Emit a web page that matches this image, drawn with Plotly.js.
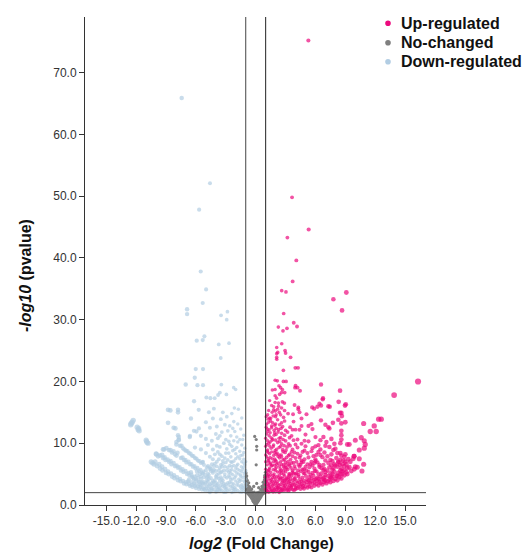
<!DOCTYPE html>
<html>
<head>
<meta charset="utf-8">
<script src="https://cdn.plot.ly/plotly-3.0.1.min.js"></script>
<style>html,body{margin:0;padding:0;background:#fff;overflow:hidden;}#chart{width:522px;height:552px;}</style>
</head>
<body>
<div id="chart"></div>
<script>
// ---- data: [log2FC, -log10 pvalue] ----
const upPoints = [
[5.29,75.2],[3.65,49.8],[5.32,44.6],[3.18,43.3],[4.08,39.6],[3.71,36.2],[2.61,34.7],[3.04,34.5],[9.1,34.4],[7.8,33.3],[8.67,31.5],[2.81,31.0],[3.82,29.5],[4.15,28.9],[2.27,28.8],[3.14,28.6],[2.74,28.2],[2.61,26.1],[16.3,20.0],[13.9,17.8],
[2.78,21.8],[3.98,22.2],[4.25,22.2],[2.11,23.9],[2.11,23.6],[3.5,23.9],[2.11,25.5],[2.21,24.7],[2.95,25.0],[3.0,24.6],[2.11,24.5],
[1.95,16.6],[2.68,16.7],[2.28,16.5],[2.88,16.5],[1.95,17.7],[2.91,18.2],[2.68,18.7],[1.95,18.7],[1.67,18.6],[4.45,18.5],[2.34,19.3],[4.0,19.3],[1.95,20.2],[2.17,20.1],[2.78,20.0],[3.05,20.0],[6.56,19.5],[8.47,18.5],[6.73,17.1],[8.33,16.7],[9.04,16.3],[8.97,16.1],[6.76,17.3],[2.5,19.0],[3.95,19.0],[4.2,19.0],[2.6,18.2],
[1.2,14.6],[1.65,15.0],[2.0,14.3],[2.37,15.0],[3.25,14.8],[3.75,14.7],[4.4,15.0],[5.1,14.7],[8.6,14.9],[8.65,14.4],[1.81,15.9],[1.97,15.2],[1.8,15.4],[2.6,15.7],[3.9,16.2],[4.28,15.8],[4.28,15.5],[5.67,15.8],[5.87,15.6],[6.2,15.9],[6.4,16.4],[7.3,16.0],[7.43,15.9],[6.56,16.1],[8.47,14.9],
[1.1,13.1],[1.5,13.6],[1.9,12.9],[2.2,13.8],[2.6,13.3],[3.8,13.5],[4.6,14.0],[5.6,13.1],[6.55,13.7],[7.0,13.0],[7.75,13.3],[8.6,13.2],[9.0,13.4],[10.84,13.2],[11.9,12.8],[12.35,13.9],[12.6,13.9],[7.3,12.6],[8.3,13.8],[1.4,14.1],
[1.2,11.9],[1.6,12.5],[1.9,11.7],[2.3,12.2],[2.7,12.7],[3.2,11.8],[3.7,12.2],[4.0,12.2],[4.4,12.2],[4.6,12.8],[5.3,12.8],[5.7,12.3],[7.4,12.4],[8.6,12.0],[11.5,11.9],[12.1,11.9],[1.6,12.8],
[1.0,10.8],[1.35,11.2],[1.7,10.7],[2.05,11.4],[2.5,10.9],[2.9,11.3],[3.6,11.2],[4.2,10.6],[5.0,11.4],[6.0,11.0],[6.8,11.0],[7.6,10.7],[8.6,10.6],[10.6,10.9],
[1.1,9.8],[1.45,10.2],[1.8,9.7],[2.2,10.1],[2.6,9.9],[3.0,10.4],[3.8,10.5],[4.6,9.9],[5.3,10.3],[6.3,9.7],[7.1,10.2],[9.2,9.8],[9.4,9.8],[10.0,10.5],[10.9,10.4],[11.0,9.8],
[1.2,8.9],[1.55,9.2],[1.95,8.8],[2.35,9.3],[2.7,8.95],[3.15,9.4],[3.7,9.0],[4.2,9.3],[4.9,8.8],[5.7,9.2],[6.5,9.0],[7.4,9.4],[10.4,8.9],[10.9,9.2],[1.0,9.5],[8.0,9.1],
[1.0,8.1],[1.4,8.3],[1.8,8.0],[2.15,8.4],[2.55,8.1],[2.95,8.5],[3.4,8.2],[3.9,8.5],[4.5,8.0],[5.2,8.4],[6.1,8.1],[6.9,8.5],[7.6,8.2],[8.2,8.4],[9.9,7.9],[1.6,8.6],
[1.3,7.2],[1.65,7.5],[2.0,7.25],[2.4,7.6],[2.75,7.3],[3.1,7.7],[3.5,7.35],[4.0,7.6],[4.6,7.2],[5.3,7.7],[6.0,7.4],[6.7,7.75],[7.5,7.3],[8.1,7.6],[8.5,7.3],[8.9,7.8],[9.8,7.5],[1.1,7.8],[2.25,7.85],
[1.15,6.5],[1.5,6.8],[1.9,6.45],[2.25,6.75],[2.6,6.55],[3.0,6.9],[3.35,6.6],[3.8,6.85],[4.3,6.5],[4.8,6.95],[5.5,6.6],[6.2,6.9],[6.8,6.5],[7.3,6.8],[7.9,6.6],[8.3,6.9],[8.7,6.6],[10.84,6.6],[1.0,7.0],[2.05,7.05],
[1.0,5.8],[1.4,6.0],[1.75,5.7],[2.1,6.1],[2.45,5.85],[2.8,6.15],[3.2,5.75],[3.55,6.0],[3.95,5.9],[4.4,6.2],[4.85,5.8],[5.4,6.1],[5.9,5.9],[6.4,6.2],[6.9,5.85],[7.4,6.1],[7.8,5.95],[8.2,6.2],[8.6,5.9],[9.2,6.0],[9.9,5.8],[10.2,6.1],[1.6,6.3],[3.4,6.35],
[1.1,5.1],[1.5,5.3],[1.85,5.0],[2.2,5.35],[2.6,5.15],[3.0,5.4],[3.35,5.05],[3.7,5.3],[4.1,5.15],[4.5,5.45],[4.9,5.1],[5.3,5.35],[5.7,5.2],[6.1,5.45],[6.6,5.1],[7.0,5.3],[7.5,5.15],[7.9,5.4],[8.3,5.2],[8.7,5.45],[9.1,5.3],[1.3,5.5],[2.8,5.55],
[1.0,4.5],[1.35,4.6],[1.7,4.4],[2.15,4.65],[2.55,4.45],[2.9,4.7],[3.25,4.5],[3.6,4.75],[3.95,4.4],[4.3,4.6],[4.7,4.45],[5.05,4.7],[5.4,4.5],[5.8,4.75],[6.15,4.4],[6.5,4.6],[6.9,4.5],[7.3,4.7],[7.7,4.6],[8.1,4.75],[8.4,4.5],[1.5,4.85],[2.4,4.9],[3.1,4.3],
[1.1,3.8],[1.45,4.0],[1.9,3.85],[2.35,4.05],[2.7,3.9],[3.0,4.1],[3.4,3.85],[3.75,4.0],[4.1,3.9],[4.45,4.15],[4.8,3.95],[5.15,4.1],[5.5,3.85],[5.85,4.05],[6.2,3.95],[6.6,4.15],[7.0,4.0],[7.4,4.1],[2.0,4.2],[1.25,4.25],
[1.0,3.3],[1.35,3.4],[1.7,3.2],[2.2,3.45],[2.5,3.3],[2.85,3.5],[3.2,3.25],[3.5,3.45],[3.9,3.3],[4.2,3.55],[4.6,3.35],[4.9,3.5],[5.3,3.3],[5.7,3.45],[6.1,3.4],[6.5,3.55],[1.55,3.6],[3.05,3.65],
[1.1,2.7],[1.4,2.8],[1.8,2.75],[2.3,2.85],[2.6,2.7],[2.9,2.9],[3.3,2.8],[3.6,2.95],[4.0,2.8],[4.3,2.95],[4.7,2.85],[5.0,3.0],[5.4,3.0],[1.25,3.05],[2.05,3.1],
[1.05,2.1],[1.3,2.05],[1.5,2.2],[1.75,2.1],[2.0,2.15],[2.25,2.3],[2.5,2.2],[2.8,2.35],[3.1,2.4],[1.15,2.4],[1.6,2.45],[2.1,2.5],[3.4,2.45],[3.7,2.5],[4.0,2.55],
[1.2,2.25],[1.65,2.3],[2.35,2.05],[2.7,2.5],[1.0,2.55],[1.9,2.6],[2.45,2.65],[3.2,2.6],[1.55,2.95],[2.15,2.9],[2.75,3.15],[3.45,3.1],[1.2,3.55],[1.95,3.55],[2.65,3.7],[3.3,3.7],[1.65,3.8],[2.45,4.25],[3.5,4.25],[1.9,4.55],[2.7,4.3],[1.2,4.75],[3.45,5.0],[2.0,5.6],[2.45,5.4],[1.2,5.55],[2.95,6.0],[1.65,6.45],[2.4,6.3],[3.05,6.45],[1.3,6.95],[2.5,7.0],[1.9,7.45],[2.9,7.4],[1.45,7.7],[2.05,8.2],[2.75,8.65],[1.25,8.5],[1.75,9.45],[2.5,9.5],[1.3,10.0],[2.0,10.5],[1.55,10.9],[2.35,10.8],[1.1,11.5],[1.85,11.3],[2.6,11.6],[1.35,12.2],[2.05,12.4],[1.05,12.6],[1.7,13.3],[2.4,13.0],[1.25,13.9],[2.05,14.6],[1.5,14.0],[1.05,14.3],[2.8,14.2],[2.2,15.5],
[3.8,3.55],[4.4,3.7],[5.1,3.7],[5.6,4.3],[6.3,4.25],[6.9,3.95],[7.6,4.35],[8.0,4.2],[4.0,5.0],[4.7,5.75],[5.1,5.6],[5.95,5.5],[6.8,5.65],[7.2,5.6],[7.7,5.7],[8.5,5.6],[8.0,6.4],[8.9,6.3],[6.4,6.5],[5.9,6.8],[4.5,6.5],[3.6,6.8],[4.1,7.0],[4.9,7.4],[5.6,7.0],[7.0,7.2],[8.6,8.0],[8.3,7.0],[9.0,7.0],[3.3,8.0],[4.2,8.3],[5.6,8.7],[6.5,8.1],[3.45,9.6],[4.0,9.8],[6.0,9.5],[9.5,7.0],[9.2,5.0],[9.6,5.5],[10.0,6.2],[10.67,5.5],[9.87,7.9],[10.4,7.5],[7.9,9.9],[8.6,11.3],[8.5,10.0],
[1.1,2.35],[1.45,2.6],[1.85,2.35],[2.2,2.7],[2.6,2.4],[2.95,2.65],[3.3,2.3],[3.55,2.75],[3.85,2.4],[4.2,2.7],[4.5,2.6],[4.85,2.65],[5.2,2.8],[5.6,2.85],[5.9,3.1],[6.3,3.15],[6.7,3.3],[7.1,3.5],[7.5,3.7],[7.8,3.9],[8.2,4.0],[8.6,4.3],[8.9,4.8],
[1.3,3.2],[1.8,3.35],[2.35,3.2],[2.95,3.15],[3.65,3.2],[4.05,3.1],[4.45,3.15],[4.75,3.1],[5.45,3.6],[5.9,3.7],[6.4,3.75],[6.85,3.7],[7.25,3.85],
[1.05,3.95],[1.6,4.15],[2.15,3.75],[2.9,3.95],[3.25,4.15],[3.9,4.2],[4.6,3.8],[5.3,3.95],[6.0,4.2],[6.8,4.3],[7.5,4.5],[8.2,4.7],[8.7,5.0],
[1.25,4.95],[1.75,4.8],[2.3,4.45],[2.8,5.0],[3.35,4.75],[3.8,5.1],[4.3,4.9],[4.8,5.2],[5.5,4.9],[6.3,5.0],[7.0,4.85],[7.7,5.0],[8.5,5.0],[8.9,5.6],[9.4,6.1],
[1.35,5.75],[1.95,5.85],[2.55,5.6],[3.1,6.0],[3.7,5.6],[4.25,5.6],[5.0,6.2],[5.7,6.4],[6.6,6.0],[7.6,6.45],[8.45,6.5],[9.1,6.6],
[1.45,6.6],[2.1,6.6],[2.8,6.5],[3.25,7.0],[3.9,6.3],[4.6,6.9],[5.2,6.6],[6.0,7.1],[7.7,7.1],[8.8,7.2],[9.3,7.4],
[1.25,7.5],[1.8,7.0],[2.6,7.8],[3.7,7.9],[4.4,7.7],[5.8,7.9],[7.2,7.9],[8.5,8.4],[9.0,8.2],
[1.15,8.7],[1.9,8.5],[2.35,8.1],[3.05,8.9],[3.6,8.6],[4.7,8.6],[6.3,8.6],[7.8,8.9],
[1.4,9.55],[2.1,9.0],[2.85,9.6],[3.3,9.9],[5.0,9.5],[7.0,9.6],
[1.2,10.4],[1.65,10.5],[2.4,10.3],[2.75,10.6],[3.4,10.9],[4.9,10.4],[6.5,10.5],
[1.45,11.7],[2.25,11.8],[3.0,12.1],[1.15,12.3],[1.85,12.1],[2.55,12.4],[3.45,12.6],[1.3,13.4],[2.0,13.1],[2.9,13.6],[1.75,14.4],[2.5,14.6],[1.3,15.3],[2.9,15.3],[1.6,16.1],[2.3,16.0],[1.4,16.9],[2.1,17.3],[2.4,17.9]
];

const downPoints = [
[-7.43,65.9],[-4.59,52.1],[-5.68,47.8],[-5.52,37.8],[-4.98,34.9],[-5.32,32.7],[-6.89,31.7],[-6.89,30.9],[-3.48,30.7],[-2.84,31.3],[-2.91,30.0],[-5.15,27.3],[-5.32,26.7],[-5.92,26.6],[-3.71,26.0],[-2.68,26.2],[-3.51,23.8],[-6.02,22.0],[-5.29,22.0],[-6.12,20.6],[-7.03,19.5],[-5.85,19.4],[-5.29,19.4],[-3.45,19.5],[-2.21,19.0],[-2.01,18.7],[-2.94,17.9],[-4.95,17.4],[-4.55,17.3],[-4.12,17.3],[-3.78,17.8],[-3.6,18.2],[-6.19,16.8],[-2.14,15.7],[-1.74,15.5],[-5.72,15.4],[-4.2,15.6],[-8.8,15.4],[-8.57,15.3],[-7.8,15.4],[-7.8,15.0],
[-12.3,13.7],[-12.4,13.4],[-12.5,13.2],[-12.55,13.0],[-11.9,12.6],[-11.8,12.2],[-11.7,12.0],[-11.75,12.4],[-11.0,10.5],[-10.9,10.1],[-10.8,10.0],[-10.95,10.3],[-10.5,7.0],[-10.35,6.8],[-10.0,8.3],[-9.8,7.9],[-9.97,8.2],[-9.3,9.0],[-8.97,9.2],[-9.2,9.0],[-8.8,13.3],[-8.24,12.5],[-8.06,12.4],[-7.73,11.0],[-7.73,10.5],[-7.96,9.8],[-7.8,11.3],[-7.73,10.6],[-7.96,10.2],[-6.62,11.0],[-6.6,11.2],[-5.95,11.9],[-5.7,12.4],[-5.5,11.2],
[-10.2,6.6],[-9.9,6.3],[-9.6,5.9],[-9.35,5.6],[-9.0,5.2],[-8.75,5.0],[-8.4,4.6],[-8.15,4.35],[-7.8,4.0],[-7.55,3.85],[-7.2,3.5],[-6.95,3.35],[-6.6,3.1],[-6.35,2.95],[-6.0,2.75],[-5.7,2.6],[-5.4,2.5],[-5.1,2.4],[-4.8,2.3],
[-9.6,8.0],[-9.3,7.6],[-9.05,7.3],[-8.7,7.0],[-8.45,6.6],[-8.1,6.3],[-7.8,6.05],[-7.5,5.6],[-7.25,5.35],[-6.9,5.0],[-6.65,4.75],[-6.3,4.4],[-6.0,4.15],[-5.7,3.8],[-5.4,3.6],[-5.1,3.4],
[-8.7,8.9],[-8.4,8.5],[-8.1,8.2],[-7.85,8.45],[-7.5,7.6],[-7.2,7.3],[-6.95,6.9],[-6.6,6.6],[-6.3,6.2],[-6.05,5.9],[-5.7,5.5],[-5.4,5.2],[-5.1,4.9],[-4.8,4.6],
[-7.6,9.6],[-7.3,9.2],[-7.0,8.8],[-6.7,8.4],[-6.4,8.0],[-6.1,7.6],[-5.8,7.2],[-5.5,6.8],[-5.2,6.5],[-4.9,6.1],[-4.6,5.8],[-4.3,5.5],
[-4.4,2.3],[-4.0,2.15],[-3.6,2.3],[-3.2,2.1],[-2.8,2.25],[-2.4,2.05],[-2.0,2.2],[-1.6,2.1],[-1.2,2.3],[-1.05,2.05],[-3.8,2.5],[-3.0,2.55],[-2.2,2.5],[-1.4,2.5],[-4.7,2.6],
[-5.8,3.0],[-5.3,2.8],[-4.9,3.0],[-4.5,2.75],[-4.1,3.1],[-3.7,2.85],[-3.3,3.05],[-2.9,2.75],[-2.5,3.0],[-2.1,2.8],[-1.7,3.1],[-1.3,2.85],[-1.0,3.0],[-4.3,3.2],[-2.7,3.25],
[-6.2,3.5],[-5.6,3.3],[-5.0,3.6],[-4.6,3.35],[-4.2,3.7],[-3.8,3.4],[-3.4,3.65],[-3.0,3.35],[-2.6,3.7],[-2.2,3.4],[-1.8,3.6],[-1.4,3.3],[-1.1,3.65],[-3.6,3.9],[-2.0,3.9],
[-6.7,4.1],[-6.0,3.9],[-5.5,4.2],[-4.9,4.0],[-4.5,4.35],[-4.1,4.05],[-3.7,4.3],[-3.3,4.0],[-2.9,4.4],[-2.5,4.1],[-2.1,4.4],[-1.7,4.15],[-1.3,4.45],[-1.0,4.2],[-5.2,4.5],[-3.1,4.6],
[-5.9,4.8],[-5.3,5.1],[-4.7,4.85],[-4.3,5.2],[-3.9,4.9],[-3.5,5.25],[-3.1,5.0],[-2.7,5.3],[-2.3,4.9],[-1.9,5.2],[-1.5,4.85],[-1.15,5.1],[-2.0,4.7],[-4.0,4.6],[-1.4,5.4],
[-5.0,5.6],[-4.5,5.9],[-4.0,5.5],[-3.6,6.0],[-3.2,5.6],[-2.8,6.1],[-2.4,5.7],[-2.0,6.0],[-1.6,5.6],[-1.2,6.1],[-1.0,5.6],[-3.4,6.2],[-2.2,6.4],[-4.8,6.3],
[-4.4,6.6],[-3.9,7.0],[-3.5,6.5],[-3.0,6.9],[-2.6,6.4],[-2.2,7.1],[-1.8,6.6],[-1.4,7.0],[-1.1,6.5],[-3.7,7.4],[-2.8,7.3],[-1.6,7.5],[-5.3,7.0],
[-4.6,7.8],[-4.1,8.2],[-3.4,7.9],[-3.0,8.4],[-2.5,7.8],[-2.0,8.3],[-1.5,8.0],[-1.2,8.5],[-3.8,8.6],[-2.3,8.8],[-5.0,8.4],[-6.1,9.3],
[-4.3,9.0],[-3.6,9.4],[-2.9,9.1],[-2.6,9.8],[-1.9,9.3],[-1.4,9.7],[-3.2,10.0],[-4.8,9.7],[-5.5,9.0],[-1.8,10.2],[-2.2,10.4],
[-4.4,10.4],[-3.8,10.8],[-3.0,10.6],[-2.5,11.2],[-1.9,11.0],[-1.3,10.6],[-4.0,11.5],[-3.4,11.8],[-2.8,12.0],[-5.0,10.7],[-2.1,11.9],[-1.5,12.3],
[-4.6,12.5],[-3.9,12.7],[-3.1,13.0],[-2.6,12.8],[-2.2,13.5],[-1.8,13.1],[-3.5,13.9],[-4.3,14.0],[-2.9,14.3],[-1.4,14.1],[-5.0,13.4],[-2.4,14.8],[-3.3,15.0],[-6.2,12.0],[-6.5,14.0],[-4.7,15.0],
[-4.2,2.5],[-3.4,2.4],[-2.6,2.45],[-1.8,2.35],[-5.0,2.7],[-3.9,2.8],[-3.1,2.8],[-2.3,2.65],[-1.5,2.75],[-5.5,3.15],[-3.5,3.2],[-1.9,3.25],[-1.25,3.1],[-4.8,3.75],[-4.0,3.6],[-2.8,3.6],[-1.6,3.85],[-1.2,3.9],[-5.8,4.4],[-4.7,4.2],[-3.5,4.5],[-2.7,4.75],[-1.5,4.6],[-4.5,5.5],[-3.7,5.6],[-2.9,5.6],[-2.1,5.5],[-1.3,5.8],[-4.2,6.3],[-3.3,6.7],[-2.4,6.9],[-1.2,7.4],[-6.4,4.6],[-6.8,3.8],[-6.5,5.3],
[-4.6,2.05],[-3.9,2.2],[-3.0,2.1],[-2.2,2.15],[-1.4,2.05],[-5.2,2.6],[-4.4,2.65],[-3.6,2.6],[-2.0,2.6],[-1.2,2.7],[-5.6,2.9],[-4.7,3.15],[-3.9,3.15],[-3.1,3.1],[-2.3,3.05],[-1.5,3.05],[-6.0,3.3],[-5.3,3.45],[-4.4,3.55],[-3.2,3.5],[-2.4,3.55],[-1.0,3.45],[-6.4,3.7],[-5.7,3.7],[-5.3,3.8],[-4.3,3.9],[-3.4,4.2],[-2.3,4.2],[-1.5,4.05],[-6.2,4.2],[-5.5,4.6],[-4.9,4.45],[-3.9,4.45],[-2.6,4.5],[-1.1,4.7],[-5.6,5.0],[-4.8,5.1],[-3.7,5.05],[-2.5,5.15],[-1.7,5.0],[-1.05,5.3],[-5.9,5.4],[-4.2,5.7],[-3.4,5.4],[-2.6,5.6],[-1.8,5.8],[-1.45,6.2],[-4.6,6.1],[-3.9,6.25],[-3.1,6.2],[-2.4,6.2],[-1.9,6.35],[-1.2,6.8],[-4.1,6.7],[-3.3,7.15],[-2.5,7.0],[-2.0,7.5],[-1.0,7.0],[-4.3,7.4],[-3.1,7.6],[-1.8,7.8],[-1.3,8.1],[-3.6,8.2],[-2.7,8.4],[-1.6,8.7],[-2.1,9.0],[-1.1,9.2],[-3.9,9.6],[-2.4,9.5],[-1.6,10.6],[-2.7,10.3],[-1.2,11.3],[-3.6,11.2],[-2.3,12.4],
[-10.1,7.0],[-9.7,6.6],[-9.4,6.2],[-9.1,5.8],[-8.8,5.4],[-8.5,5.1],[-8.2,4.8],[-7.9,4.5],[-7.6,4.2],[-7.3,3.9],[-7.0,3.7],[-6.7,3.45],[-6.4,3.25],[-6.1,3.05],[-9.4,8.1],[-9.15,7.7],[-8.85,7.35],[-8.55,7.1],[-8.25,6.8],[-7.95,6.4],[-7.65,6.1],[-7.35,5.8],[-7.05,5.5],[-6.75,5.2],[-6.45,4.9],[-6.15,4.6],[-8.55,8.9],[-8.25,8.7],[-7.95,8.0],[-7.35,7.7],[-7.05,7.3],[-6.75,7.0],[-6.45,6.6],[-6.15,6.3],[-5.85,6.0],[-5.55,5.7],[-5.25,5.4],[-7.45,9.6],[-7.15,9.0],[-6.85,8.7],[-6.55,8.3],[-6.25,7.9],[-5.95,7.5],[-5.65,7.1],[-5.35,6.9]
];

const ncPoints = [
[0,0.05],[-0.05,0.15],[0.06,0.2],[-0.1,0.3],[0.12,0.35],[0.02,0.4],[-0.18,0.45],[0.2,0.5],[-0.08,0.55],[0.1,0.6],[-0.25,0.6],[0.28,0.7],[0.0,0.75],[-0.3,0.8],[0.15,0.85],[-0.15,0.9],[0.35,0.9],[-0.38,1.0],[0.05,1.0],[0.42,1.05],[-0.22,1.1],[0.25,1.15],[-0.45,1.2],[0.48,1.25],[-0.1,1.25],[-0.5,1.35],[0.35,1.4],[0.55,1.45],[-0.32,1.45],[-0.58,1.5],[0.1,1.5],[0.62,1.6],[-0.65,1.65],[-0.2,1.65],[0.45,1.7],[-0.7,1.75],[0.7,1.8],[-0.42,1.8],[0.25,1.85],[-0.75,1.9],[0.78,1.95],[-0.55,1.95],[0.55,2.0],[-0.85,2.05],[0.85,2.05],[-0.3,2.05],[0.35,2.1],[-0.92,2.15],[0.92,2.15],[-0.65,2.2],[0.65,2.25],[-0.98,2.3],[0.98,2.3],[-0.8,2.4],[0.8,2.45],[-0.5,2.4],[0.5,2.5],[-0.95,2.6],[0.95,2.6],[-0.7,2.7],[0.72,2.75],[-0.88,2.85],[0.88,2.9],[-0.6,2.95],[0.62,3.0],[-0.97,3.1],[0.97,3.1],[-0.8,3.25],[0.82,3.3],[-0.92,3.5],[0.92,3.5],[-0.7,3.6],[0.75,3.7],[-0.98,3.8],[0.96,3.85],[-0.85,4.0],[0.88,4.1],[-0.95,4.3],[0.97,4.4],[-0.9,4.7],[0.92,4.8],[-0.97,5.2],[0.98,5.3],
[-0.4,2.6],[0.3,2.8],[-0.2,3.0],[0.1,3.5],[-0.1,11.1],[0.05,10.6],[0.1,9.5],[0.1,8.9],[0.05,6.5],
[0.0,0.3],[0.08,0.45],[-0.12,0.65],[0.2,0.75],[-0.2,0.8],[0.05,0.85],[-0.05,1.1],[0.3,1.0],[-0.35,1.2],[0.15,1.3],[0.4,1.35],[-0.25,1.35],[-0.45,1.55],[0.25,1.55],[0.5,1.55],[-0.1,1.6],[0.05,1.75],[-0.55,1.7],[0.6,1.75],[-0.3,1.85],[0.38,1.85],[-0.85,1.95],[0.88,1.95],[-0.65,1.85],[0.68,1.95],[-0.45,2.0],[0.15,2.0],[-0.15,2.1],[-0.75,2.15],[0.75,2.15],[-0.9,2.4],[0.9,2.4],[-0.62,2.5],[0.62,2.5],[-0.85,2.7],[0.82,2.7],[-0.98,2.8],[0.98,2.8],[-0.72,3.0],[0.75,3.05],[-0.9,3.05],[0.9,3.2],[-0.98,3.4],[0.98,3.5],[-0.82,3.6],[0.85,3.75],[-0.95,3.95],[0.95,4.05],[-0.98,4.6],[0.98,4.6],[-0.92,4.1],[0.9,4.5]
];

const xTickVals = [-15, -12, -9, -6, -3, 0, 3, 6, 9, 12, 15];
const xTickText = ["-15.0", "-12.0", "-9.0", "-6.0", "-3.0", "0.0", "3.0", "6.0", "9.0", "12.0", "15.0"];
const yTickVals = [0, 10, 20, 30, 40, 50, 60, 70];
const yTickText = ["0.0", "10.0", "20.0", "30.0", "40.0", "50.0", "60.0", "70.0"];
const seriesNames = ["Up-regulated", "No-changed", "Down-regulated"];
const xTitle = "<b><i>log2</i> (Fold Change)</b>";
const yTitle = "<b><i>-log10</i> (pvalue)</b>";
const fcCut = 1;
const pCut = 2;

// ---- build traces ----
const COL_UP = "#EC0A7E", COL_NC = "#7F7F7F", COL_DN = "#B2CDE3";
function sizes(pts) { return pts.map(p => 3.2 + 0.18 * Math.abs(p[0])); }
function mk(pts, color, sz) {
  return {
    type: "scatter", mode: "markers", showlegend: false, hoverinfo: "skip",
    x: pts.map(p => p[0]), y: pts.map(p => p[1]),
    marker: { color: color, size: sz, line: { width: 0 } }
  };
}
const traces = [
  mk(ncPoints, COL_NC, 3.2),
  mk(downPoints, COL_DN, sizes(downPoints)),
  mk(upPoints, COL_UP, sizes(upPoints))
];

// fixed pixel geometry: plot area 85..426 x 17..505
const L = 85, R = 426, T = 17, B = 505;
const px2x = p => (p - L) / (R - L);
const px2y = p => (B - p) / (B - T);
const FONT = "Liberation Sans, Arial, sans-serif";
const legendCols = [COL_UP, COL_NC, COL_DN];
const legendRowsPx = [23.3, 42.7, 61.7];
const legendShapes = legendCols.map((c, i) => ({
  type: "circle", xref: "paper", yref: "paper", xsizemode: "pixel", ysizemode: "pixel",
  xanchor: px2x(388), yanchor: px2y(legendRowsPx[i]), x0: -2.8, x1: 2.8, y0: -2.8, y1: 2.8,
  fillcolor: c, line: { width: 0 }
}));
const annotations = seriesNames.map((n, i) => ({
  xref: "paper", yref: "paper", x: px2x(399), y: px2y(legendRowsPx[i]),
  xanchor: "left", yanchor: "middle", showarrow: false, text: "<b>" + n + "</b>",
  font: { family: FONT, size: 16, color: "#111" }
}));
annotations.push({
  xref: "paper", yref: "paper", x: px2x(261.5), y: px2y(543), xanchor: "center", yanchor: "middle",
  showarrow: false, text: xTitle, font: { family: FONT, size: 16, color: "#111" }
});
annotations.push({
  xref: "paper", yref: "paper", x: px2x(25), y: px2y(276), xanchor: "center", yanchor: "middle",
  showarrow: false, textangle: -90, text: yTitle, font: { family: FONT, size: 16, color: "#111" }
});

const axisFont = { family: FONT, size: 12, color: "#333" };
const layout = {
  width: 522, height: 552,
  margin: { l: 85, r: 96, t: 17, b: 47, autoexpand: false },
  paper_bgcolor: "#fff", plot_bgcolor: "#fff",
  showlegend: false,
  xaxis: {
    range: [-17.14, 17.1], tickmode: "array", tickvals: xTickVals, ticktext: xTickText, tickangle: 0,
    showgrid: false, zeroline: false, showline: true, linecolor: "#333", linewidth: 1,
    ticks: "outside", ticklen: 5, tickcolor: "#333", tickfont: axisFont, automargin: false
  },
  yaxis: {
    range: [0, 79], tickmode: "array", tickvals: yTickVals, ticktext: yTickText,
    showgrid: false, zeroline: false, showline: true, linecolor: "#333", linewidth: 1,
    ticks: "outside", ticklen: 5, tickcolor: "#333", tickfont: axisFont, automargin: false
  },
  annotations: annotations,
  shapes: [
    { type: "line", xref: "x", yref: "paper", x0: -fcCut, x1: -fcCut, y0: 0, y1: 1, line: { color: "#444", width: 1 } },
    { type: "line", xref: "x", yref: "paper", x0: fcCut, x1: fcCut, y0: 0, y1: 1, line: { color: "#222", width: 1 } },
    { type: "line", xref: "paper", yref: "y", x0: 0, x1: 1, y0: pCut, y1: pCut, line: { color: "#444", width: 1 } }
  ].concat(legendShapes)
};
Plotly.newPlot("chart", traces, layout, { displayModeBar: false, staticPlot: true });
</script>
</body>
</html>
